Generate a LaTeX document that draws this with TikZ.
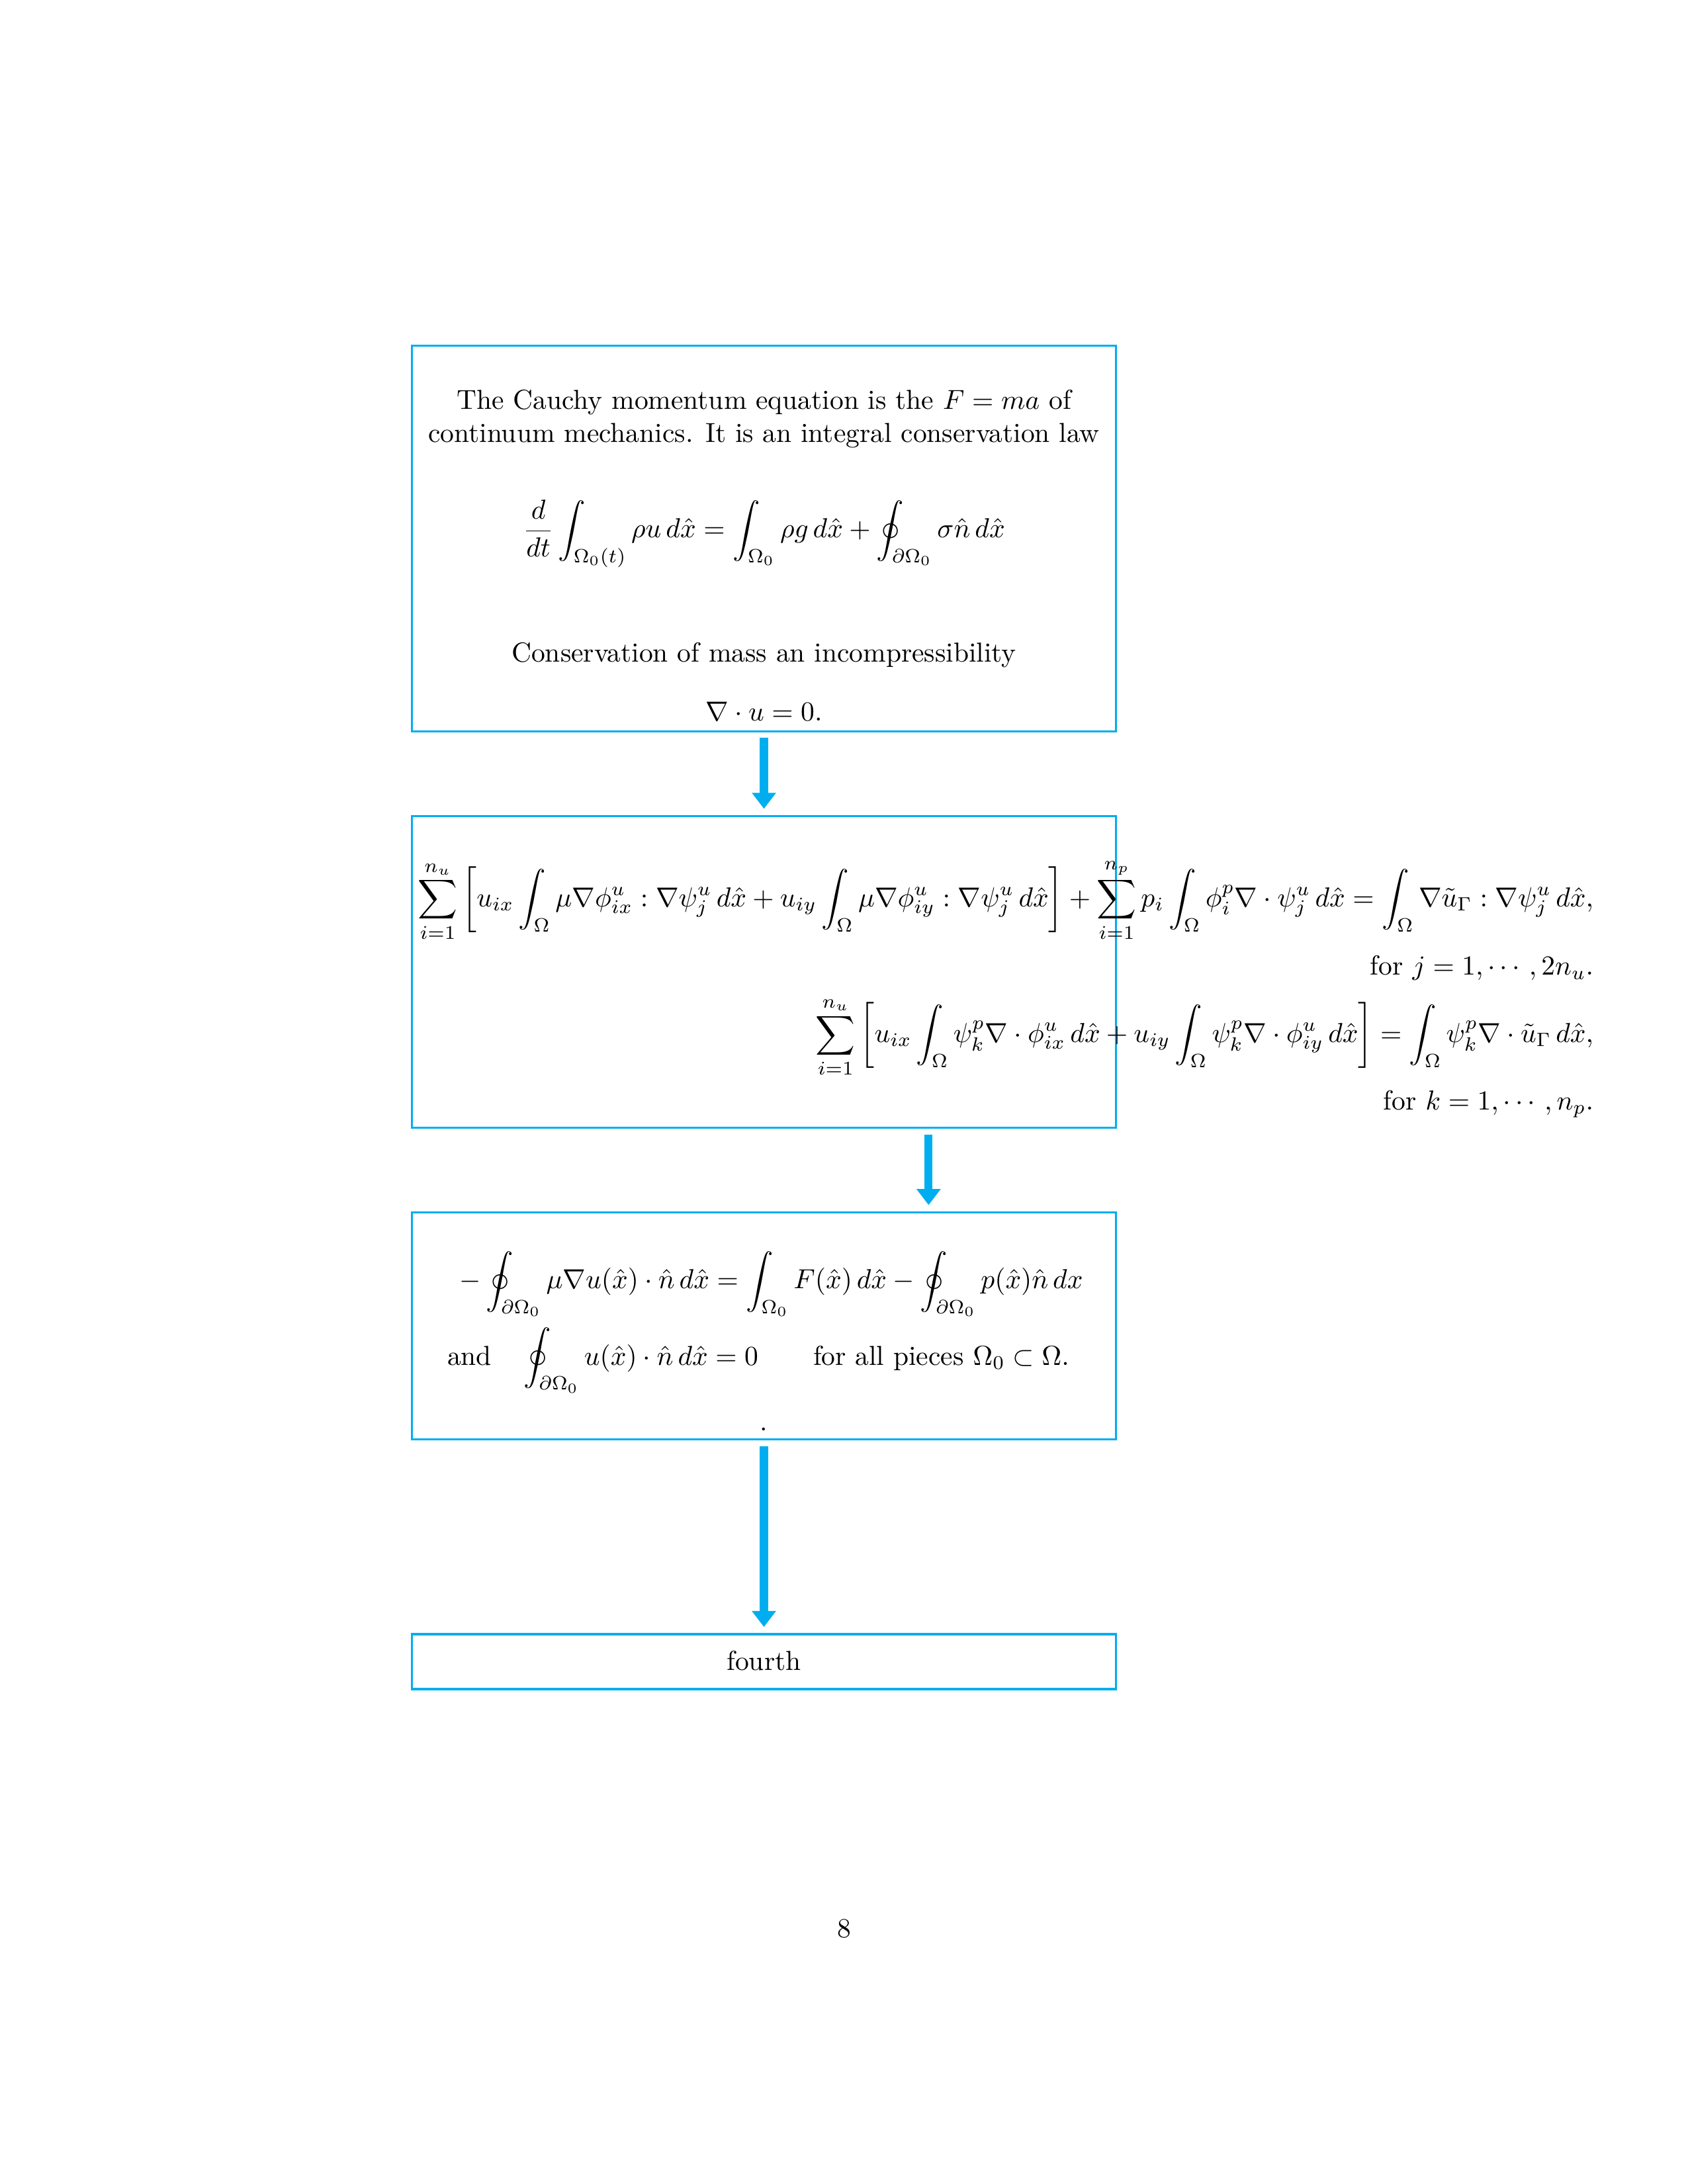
\documentclass[tikz,border=0pt]{standalone}
\usepackage{amsmath}
\usetikzlibrary{arrows.meta}
\definecolor{boxcyan}{RGB}{0,174,239}
\tikzset{
  panel/.style={draw=boxcyan, line width=0.8pt, outer sep=0pt, inner sep=0pt, minimum width=255.2bp},
  flowarrow/.style={draw=boxcyan, line width=2.9bp, -{Triangle[width=8.4bp,length=5.8bp]}, shorten <=2.4bp, shorten >=2.6bp},
  txt/.style={inner sep=0pt, outer sep=0pt, font=\normalsize},
}
\begin{document}
\begin{tikzpicture}[x=1bp,y=-1bp]
\useasboundingbox (0,0) rectangle (612,792);
% boxes
\node[panel, minimum height=139.8bp] (box1) at (277,195.3) {};
\node[panel, minimum height=113.1bp] (box2) at (277,352.45) {};
\node[panel, minimum height=82.4bp] (box3) at (277,480.8) {};
\node[panel, minimum height=19.9bp] (box4) at (277,602.55) {};
% connectors
\draw[flowarrow] (box1.south) -- (box2.north);
\draw[flowarrow] ([xshift=59.7bp]box2.south) -- ([xshift=59.7bp]box3.north);
\draw[flowarrow] (box3.south) -- (box4.north);
% box 1 contents
\node[txt, anchor=base] (l1) at (277,148.3) {The Cauchy momentum equation is the $F=ma$ of};
\node[txt, anchor=base] (l2) at (277,160.3) {continuum mechanics. It is an integral conservation law};
\node[txt, anchor=base] (e1) at (277,195) {$\displaystyle \frac{d}{dt}\int_{\Omega_0(t)} \rho u\, d\hat{x} = \int_{\Omega_0}\rho g\, d\hat{x} + \oint_{\partial\Omega_0}\sigma\hat{n}\, d\hat{x}$};
\node[txt, anchor=base] (l3) at (277,240) {Conservation of mass an incompressibility};
\node[txt, anchor=base] (e2) at (277,261.5) {$\displaystyle \nabla\cdot u = 0.$};
% box 2 contents
\node[txt, anchor=base east] (e3) at (577.8,328.8) {$\displaystyle \sum_{i=1}^{n_u}\left[u_{ix}\int_\Omega \mu\nabla\phi^u_{ix}:\nabla\psi^u_j\,d\hat{x} + u_{iy}\int_\Omega\mu\nabla\phi^u_{iy}:\nabla\psi^u_j\,d\hat{x}\right] + \sum_{i=1}^{n_p} p_i\int_\Omega\phi^p_i\nabla\cdot\psi^u_j\,d\hat{x} = \int_\Omega\nabla\tilde{u}_\Gamma:\nabla\psi^u_j\,d\hat{x},$};
\node[txt, anchor=base east] (l4) at (577.8,353.6) {for $j=1,\cdots,2n_u.$};
\node[txt, anchor=base east] (e4) at (577.8,378) {$\displaystyle \sum_{i=1}^{n_u}\left[u_{ix}\int_\Omega\psi^p_k\nabla\cdot\phi^u_{ix}\,d\hat{x} + u_{iy}\int_\Omega\psi^p_k\nabla\cdot\phi^u_{iy}\,d\hat{x}\right] = \int_\Omega\psi^p_k\nabla\cdot\tilde{u}_\Gamma\,d\hat{x},$};
\node[txt, anchor=base east] (l5) at (577.8,402.4) {for $k=1,\cdots,n_p.$};
% box 3 contents
\node[txt, anchor=base west] (e5) at (166.7,467.3) {$\displaystyle -\oint_{\partial\Omega_0}\mu\nabla u(\hat{x})\cdot\hat{n}\,d\hat{x} = \int_{\Omega_0}F(\hat{x})\,d\hat{x} - \oint_{\partial\Omega_0}p(\hat{x})\hat{n}\,dx$};
\node[txt, anchor=base west] (e6) at (162.2,495) {$\displaystyle \text{and}\quad \oint_{\partial\Omega_0}u(\hat{x})\cdot\hat{n}\,d\hat{x} = 0\qquad\text{for all pieces }\Omega_0\subset\Omega.$};
\node[txt, anchor=base] (dot) at (277,518.8) {.};
% box 4 contents
\node[txt, anchor=base] (l6) at (277,605.6) {fourth};
% page number
\node[txt, anchor=base] (pnum) at (306,702.5) {8};
\end{tikzpicture}
\end{document}
